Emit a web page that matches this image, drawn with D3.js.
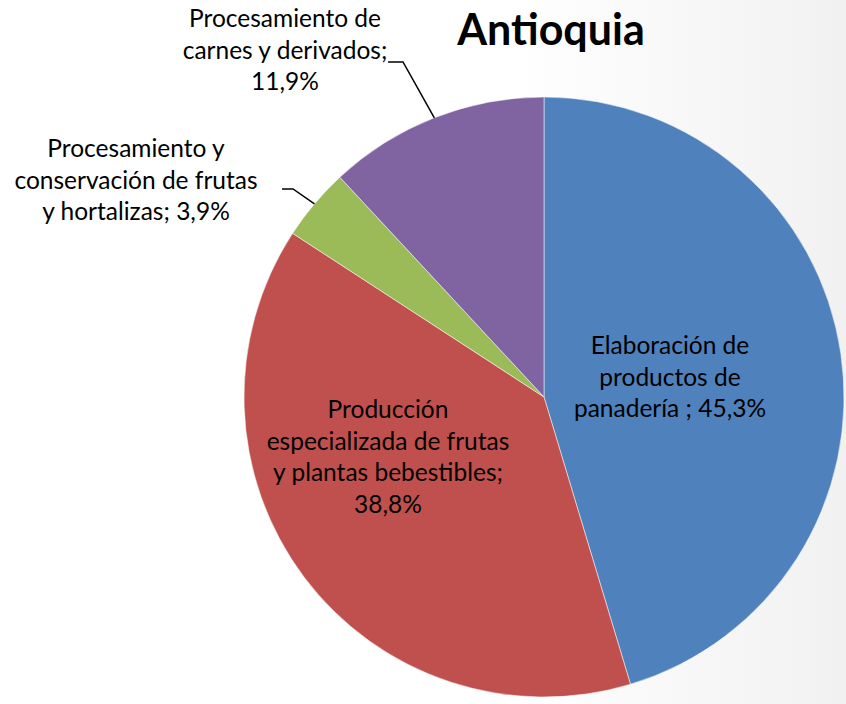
<!DOCTYPE html>
<html>
<head>
<meta charset="utf-8">
<script src="https://cdn.jsdelivr.net/npm/d3@7"></script>
<style>
  body { margin: 0; background: #fff; }
  svg text { font-family: Lato, "Open Sans", sans-serif; fill: #000; }
</style>
</head>
<body>
<div id="chart"></div>
<script>
// data
var categories = [
  "Elaboración de productos de panadería",
  "Producción especializada de frutas y plantas bebestibles",
  "Procesamiento y conservación de frutas y hortalizas",
  "Procesamiento de carnes y derivados"
];
var values = [45.3, 38.8, 3.9, 11.9];
var valueLabels = ["45,3%", "38,8%", "3,9%", "11,9%"];
var labelLines = [
  ["Elaboración de", "productos de", "panadería ; 45,3%"],
  ["Producción", "especializada de frutas", "y plantas bebestibles;", "38,8%"],
  ["Procesamiento y", "conservación de frutas", "y hortalizas; 3,9%"],
  ["Procesamiento de", "carnes y derivados;", "11,9%"]
];
var colors = ["#4F81BD", "#C0504D", "#9BBB59", "#8064A2"];
var title = "Antioquia";

var width = 846, height = 704;
var cx = 544, cy = 397, radius = 300;

var svg = d3.select("#chart").append("svg")
  .attr("width", width)
  .attr("height", height);

// faint slide background, greyish toward the right edge
var defs = svg.append("defs");
var grad = defs.append("linearGradient").attr("id", "bg")
  .attr("x1", "0").attr("x2", "1").attr("y1", "0").attr("y2", "0");
grad.append("stop").attr("offset", "0.6").attr("stop-color", "#ffffff");
grad.append("stop").attr("offset", "1").attr("stop-color", "#f1f1f1");
svg.append("rect").attr("width", width).attr("height", height).attr("fill", "url(#bg)");

var data = categories.map(function(c, i) {
  return { name: c, value: values[i], color: colors[i], lines: labelLines[i] };
});

var pie = d3.pie().sort(null).value(function(d) { return d.value; });
var arcs = pie(data);
var arc = d3.arc().innerRadius(0).outerRadius(radius);

var g = svg.append("g").attr("transform", "translate(" + cx + "," + cy + ")");

g.selectAll("path.slice")
  .data(arcs)
  .enter()
  .append("path")
  .attr("class", "slice")
  .attr("d", arc)
  .attr("fill", function(d) { return d.data.color; })
  .attr("stroke", "#ffffff")
  .attr("stroke-opacity", 0.5)
  .attr("stroke-width", 1);

var fontSize = 24.5;
var lineH = 31.5;

// label anchors: inside for the big slices, outside with leader lines for the small ones
var labelPos = [
  { x: 126, y: -20, inside: true },
  { x: -156, y: 60, inside: true },
  { x: -408, y: -217, inside: false },
  { x: -259, y: -347, inside: false }
];
// leader line: start next to text, short horizontal, then to pie edge
var leaderStart = [null, null, [-262, -208], [-156, -335]];
var leaderBend = [null, null, [-251, -208], [-141, -335]];

arcs.forEach(function(a, i) {
  var p = labelPos[i];
  var lines = a.data.lines;
  var y0 = p.y - (lines.length - 1) * lineH / 2;
  var t = g.append("text")
    .attr("text-anchor", "middle")
    .attr("font-size", fontSize);
  lines.forEach(function(l, j) {
    t.append("tspan")
      .attr("x", p.x)
      .attr("y", y0 + j * lineH)
      .attr("dy", "0.35em")
      .text(l);
  });
  if (!p.inside) {
    var mid = (a.startAngle + a.endAngle) / 2;
    var edge = [Math.sin(mid) * radius, -Math.cos(mid) * radius];
    g.append("polyline")
      .attr("points", [leaderStart[i], leaderBend[i], edge].map(function(q) { return q.join(","); }).join(" "))
      .attr("fill", "none")
      .attr("stroke", "#000")
      .attr("stroke-width", 1.5);
  }
});

svg.append("text")
  .attr("x", 551)
  .attr("y", 45)
  .attr("text-anchor", "middle")
  .attr("font-size", 43)
  .attr("font-weight", "bold")
  .text(title);
</script>
</body>
</html>
